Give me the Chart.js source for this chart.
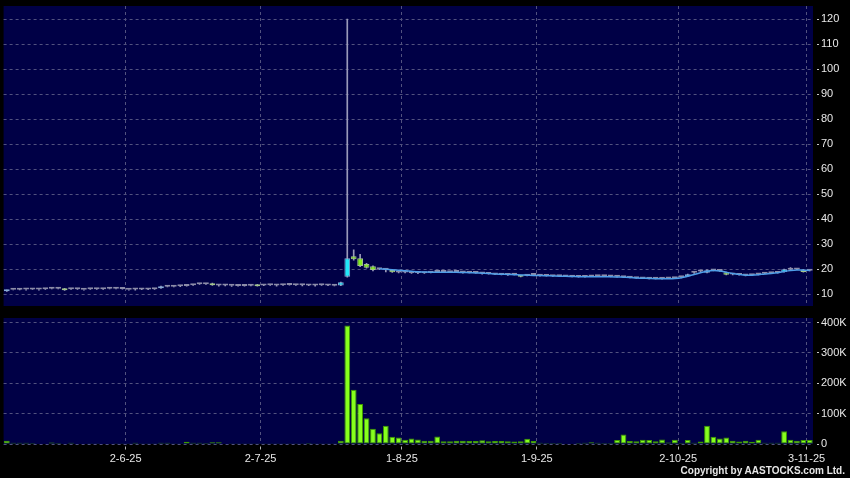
<!DOCTYPE html>
<html>
<head>
<meta charset="utf-8">
<script src="https://cdn.jsdelivr.net/npm/chart.js@4.4.1/dist/chart.umd.min.js"></script>
<style>
  body { margin: 0; background: #000; }
  #wrap { position: relative; width: 850px; height: 478px; background: #000; overflow: hidden; }
  .box { position: absolute; left: 0; width: 850px; }
  #copy { position: absolute; right: 5px; top: 465px; font: bold 10px "Liberation Sans", Arial, sans-serif; line-height: 11px; color: #e6e6e6; z-index: 2; }
</style>
</head>
<body>
<div id="wrap">
  <div class="box" style="top:0;height:312px"><canvas id="priceChart"></canvas></div>
  <div class="box" style="top:312px;height:166px"><canvas id="volChart"></canvas></div>
  <div id="copy">Copyright by AASTOCKS.com Ltd.</div>
</div>
<script>
// trading days (day-month-yy)
const mayDays = [6,7,8,9,12,13,14,15,16,19,20,21,22,23,26,27,28,29,30];
const junDays = [2,3,4,5,6,9,10,11,12,13,16,17,18,19,20,23,24,25,26,27,30];
const julDays = [2,3,4,7,8,9,10,11,14,15,16,17,18,21,22,23,24,25,28,29,30,31];
const augDays = [1,4,5,6,7,8,11,12,13,14,15,18,19,20,21,22,25,26,27,28,29];
const sepDays = [1,2,3,4,5,8,9,10,11,12,15,16,17,18,19,22,23,24,25,26,29,30];
const octDays = [2,3,6,8,9,10,13,14,15,16,17,20,21,22,23,24,27,28,30,31];
const novDays = [3];

const dates = [
  ...mayDays.map(d => d + '-5-25'),
  ...junDays.map(d => d + '-6-25'),
  ...julDays.map(d => d + '-7-25'),
  ...augDays.map(d => d + '-8-25'),
  ...sepDays.map(d => d + '-9-25'),
  ...octDays.map(d => d + '-10-25'),
  ...novDays.map(d => d + '-11-25')
];

const xTickLabels = ['2-6-25', '2-7-25', '1-8-25', '1-9-25', '2-10-25', '3-11-25'];
const priceTicks = [10, 20, 30, 40, 50, 60, 70, 80, 90, 100, 110, 120];
const volTicks = [0, 100, 200, 300, 400];
const volTickLabels = ['0', '100K', '200K', '300K', '400K'];

const openP = [
  11.2, 11.75, 11.75, 11.85, 11.85, 11.85, 12.0, 12.2, 12.2, 12.25,
  12.0, 12.0, 11.75, 12.0, 12.0, 12.0, 12.2, 12.2, 12.1, 11.75,
  11.9, 11.9, 11.9, 12.0, 12.4, 13.0, 13.0, 13.2, 13.3, 13.6,
  14.0, 14.0, 14.4, 13.5, 13.5, 13.4, 13.3, 13.3, 13.4, 13.9,
  13.5, 13.6, 13.5, 13.6, 13.7, 13.6, 13.6, 13.5, 13.5, 13.6,
  13.5, 13.4, 13.5, 17.0, 25.2, 24.4, 22.1, 21.2, 20.0, 19.8,
  19.7, 18.7, 18.7, 18.5, 18.5, 18.4, 18.6, 18.9, 18.9, 18.8,
  18.9, 18.7, 18.6, 18.5, 18.3, 18.1, 17.9, 17.8, 17.7, 17.8,
  17.6, 17.4, 17.7, 17.4, 17.3, 17.2, 17.2, 17.1, 17.0, 16.9,
  16.9, 17.1, 17.2, 17.2, 17.1, 17.0, 16.8, 16.6, 16.4, 16.3,
  16.2, 16.2, 16.2, 16.3, 16.4, 16.8, 17.1, 18.6, 19.1, 18.6,
  19.5, 19.3, 18.8, 17.9, 17.7, 17.5, 17.6, 17.9, 18.2, 18.4,
  18.5, 18.9, 19.8, 19.9, 19.8, 19.4
];
const highP = [
  11.7, 11.8, 12.1, 11.9, 11.9, 11.9, 12.1, 12.3, 12.3, 12.4,
  12.1, 12.1, 11.8, 12.4, 12.1, 12.3, 12.3, 12.3, 12.2, 11.8,
  12.0, 12.0, 12.0, 12.1, 13.3, 13.1, 13.1, 13.3, 13.8, 13.7,
  14.1, 14.1, 14.5, 13.6, 13.6, 13.5, 13.4, 13.5, 13.6, 14.0,
  13.6, 13.7, 13.6, 13.7, 13.8, 13.7, 13.7, 13.6, 13.6, 13.7,
  13.6, 13.5, 14.9, 120, 27.7, 26.0, 22.4, 21.4, 20.3, 20.0,
  19.9, 19.0, 18.9, 18.7, 18.6, 18.6, 18.9, 19.0, 19.0, 19.2,
  19.0, 18.8, 18.7, 18.7, 18.4, 18.2, 18.0, 18.1, 17.8, 17.9,
  17.7, 17.6, 17.9, 17.5, 17.4, 17.5, 17.3, 17.2, 17.1, 17.0,
  17.1, 17.3, 17.3, 17.4, 17.2, 17.1, 17.0, 16.7, 16.5, 16.4,
  16.3, 16.4, 16.3, 16.4, 16.6, 17.0, 18.1, 18.8, 19.3, 19.8,
  19.7, 19.5, 18.9, 18.0, 17.9, 17.6, 17.8, 18.0, 18.4, 18.5,
  18.7, 20.1, 20.7, 20.1, 20.0, 19.6
];
const lowP = [
  11.1, 11.7, 11.7, 11.6, 11.8, 11.6, 11.9, 12.1, 12.1, 11.5,
  11.9, 11.9, 11.6, 11.95, 11.9, 11.9, 12.1, 12.1, 12.0, 11.6,
  11.6, 11.8, 11.8, 11.9, 12.3, 12.9, 12.9, 13.0, 13.2, 13.5,
  13.9, 13.9, 13.5, 13.2, 13.3, 13.1, 13.2, 13.2, 13.3, 13.2,
  13.4, 13.5, 13.2, 13.5, 13.6, 13.5, 13.3, 13.4, 13.2, 13.5,
  13.4, 13.3, 13.4, 16.8, 23.6, 21.0, 20.4, 19.3, 19.8, 18.9,
  18.7, 18.5, 18.5, 18.3, 18.2, 18.3, 18.5, 18.7, 18.6, 18.7,
  18.8, 18.4, 18.5, 18.4, 18.0, 18.0, 17.8, 17.7, 17.5, 17.7,
  16.9, 17.3, 17.6, 17.2, 17.2, 17.1, 17.0, 17.0, 16.9, 16.8,
  16.8, 17.0, 17.1, 17.1, 16.9, 16.8, 16.6, 16.5, 16.3, 16.2,
  16.1, 16.1, 16.0, 16.2, 16.3, 16.5, 17.0, 18.3, 18.9, 18.5,
  19.3, 19.1, 17.7, 17.7, 17.6, 17.3, 17.5, 17.7, 18.1, 18.2,
  18.4, 18.8, 19.7, 19.8, 18.8, 19.3
];
const closeP = [
  11.6, 11.75, 11.75, 11.85, 11.85, 11.85, 12.0, 12.2, 12.2, 11.6,
  12.0, 12.0, 11.75, 12.0, 12.0, 12.0, 12.2, 12.2, 12.1, 11.75,
  11.9, 11.9, 11.9, 12.0, 13.2, 13.0, 13.0, 13.2, 13.3, 13.6,
  14.0, 14.0, 13.6, 13.5, 13.5, 13.4, 13.3, 13.3, 13.4, 13.2,
  13.5, 13.6, 13.5, 13.6, 13.7, 13.6, 13.6, 13.5, 13.5, 13.6,
  13.5, 13.4, 14.8, 24.4, 24.0, 21.3, 20.6, 19.7, 20.0, 19.8,
  18.8, 18.7, 18.7, 18.5, 18.5, 18.4, 18.6, 18.9, 18.9, 18.8,
  18.9, 18.7, 18.6, 18.5, 18.3, 18.1, 17.9, 17.8, 17.7, 17.8,
  17.0, 17.4, 17.7, 17.4, 17.3, 17.2, 17.2, 17.1, 17.0, 16.9,
  16.9, 17.1, 17.2, 17.2, 17.1, 17.0, 16.8, 16.6, 16.4, 16.3,
  16.2, 16.2, 16.2, 16.3, 16.4, 16.8, 18.0, 18.6, 19.1, 19.6,
  19.5, 19.3, 17.8, 17.9, 17.7, 17.5, 17.6, 17.9, 18.2, 18.4,
  18.5, 20.0, 19.8, 19.9, 18.9, 19.4
];
// moving average line, only drawn after the jump
const maLine = [
  null, null, null, null, null, null, null, null, null, null,
  null, null, null, null, null, null, null, null, null, null,
  null, null, null, null, null, null, null, null, null, null,
  null, null, null, null, null, null, null, null, null, null,
  null, null, null, null, null, null, null, null, null, null,
  null, null, null, null, null, null, null, null, 20.2, 20.0,
  19.8, 19.6, 19.4, 19.2, 19.0, 18.9, 18.8, 18.8, 18.8, 18.8,
  18.8, 18.7, 18.6, 18.5, 18.4, 18.3, 18.1, 18.0, 17.9, 17.8,
  17.7, 17.6, 17.5, 17.5, 17.4, 17.3, 17.2, 17.2, 17.1, 17.0,
  17.0, 17.0, 17.0, 17.0, 17.0, 16.9, 16.8, 16.7, 16.5, 16.4,
  16.3, 16.2, 16.2, 16.2, 16.3, 16.6, 17.2, 17.9, 18.6, 19.2,
  19.5, 19.3, 18.8, 18.3, 17.9, 17.6, 17.6, 17.8, 18.1, 18.3,
  18.6, 19.1, 19.5, 19.7, 19.6, 19.5
];
// volume in thousands
const volume = [
  11, 4, 4, 4, 3, 2, 2, 5, 3, 2,
  4, 2, 2, 1, 1, 2, 2, 1, 1, 1,
  4, 1, 1, 1, 4, 4, 1, 1, 7, 4,
  4, 3, 6, 6, 2, 1, 1, 1, 1, 1,
  1, 1, 1, 1, 1, 1, 1, 3, 1, 1,
  1, 1, 11, 390, 179, 132, 85, 50, 35, 60,
  24, 21, 14, 18, 15, 11, 11, 25, 9, 9,
  11, 11, 10, 10, 12, 9, 10, 10, 9, 8,
  9, 17, 10, 4, 3, 3, 3, 2, 2, 3,
  4, 6, 4, 3, 3, 13, 31, 10, 9, 14,
  13, 9, 15, 5, 14, 3, 13, 4, 8, 60,
  24, 18, 21, 11, 8, 11, 7, 14, 4, 4,
  4, 42, 14, 11, 13, 13
];

const navy = '#000046';
const gridC = '#52527f';
const txtC = '#e8e8e8';

Chart.defaults.font.family = '"Liberation Sans", Arial, sans-serif';
Chart.defaults.font.size = 11;
Chart.defaults.animation = false;

const plotBg = {
  id: 'plotBg',
  beforeDraw(chart) {
    const { ctx, chartArea: a } = chart;
    ctx.save();
    ctx.fillStyle = navy;
    ctx.fillRect(a.left, a.top, a.right - a.left, a.bottom - a.top);
    ctx.restore();
  }
};

// vertical grid lines sit on the left edge of the tick's day
function setXTicks(scale) {
  scale.ticks = xTickLabels.map(l => ({ value: dates.indexOf(l) - 0.5 }));
}

const bodyFill = dates.map((d, i) => closeP[i] > openP[i] ? '#22e8fa' : closeP[i] < openP[i] ? '#86ec22' : '#8c8ca8');
const bodyEdge = dates.map((d, i) => closeP[i] > openP[i] ? '#86aad6' : closeP[i] < openP[i] ? '#a2c48a' : '#8c8ca8');

new Chart(document.getElementById('priceChart'), {
  type: 'bar',
  data: {
    labels: dates,
    datasets: [
      {
        type: 'line',
        label: 'MA',
        data: maLine,
        borderColor: '#4f9ee8',
        borderWidth: 1.5,
        pointRadius: 0,
        tension: 0.3,
        order: 1
      },
      {
        label: 'Body',
        data: dates.map((d, i) => [openP[i], closeP[i]]),
        backgroundColor: bodyFill,
        borderColor: bodyEdge,
        borderWidth: 1,
        borderSkipped: false,
        minBarLength: 2,
        barPercentage: 0.9,
        categoryPercentage: 1,
        grouped: false,
        order: 2
      },
      {
        label: 'Wick',
        data: dates.map((d, i) => [lowP[i], highP[i]]),
        backgroundColor: '#9a9aba',
        barThickness: 1,
        grouped: false,
        order: 3
      }
    ]
  },
  options: {
    responsive: true,
    maintainAspectRatio: false,
    layout: { padding: { left: 3.6, top: 6, right: 0, bottom: 6 } },
    plugins: { legend: { display: false }, tooltip: { enabled: false } },
    scales: {
      x: {
        grid: { color: gridC, drawTicks: false, offset: false },
        border: { display: false, dash: [3, 3] },
        // labels are shown only under the volume panel
        ticks: { color: 'rgba(0,0,0,0)', autoSkip: false, maxRotation: 0, callback: () => '' },
        afterBuildTicks: setXTicks,
        afterFit: s => { s.height = 0; s.paddingLeft = 0; s.paddingRight = 0; }
      },
      y: {
        position: 'right',
        min: 5.3,
        max: 125.2,
        grid: { color: gridC, tickLength: 6, tickColor: '#c8c8c8', tickBorderDash: [0, 4, 2, 4] },
        border: { display: false, dash: [3, 3] },
        ticks: { color: txtC, padding: 2 },
        afterBuildTicks: s => { s.ticks = priceTicks.map(v => ({ value: v })); },
        afterFit: s => { s.width = 37; s.paddingTop = 0; s.paddingBottom = 0; }
      }
    }
  },
  plugins: [plotBg]
});

new Chart(document.getElementById('volChart'), {
  type: 'bar',
  data: {
    labels: dates,
    datasets: [{
      label: 'Volume',
      data: volume,
      backgroundColor: '#86ff1c',
      borderColor: '#3e9a00',
      borderWidth: 1,
      borderSkipped: false,
      barPercentage: 0.9,
      categoryPercentage: 1
    }]
  },
  options: {
    responsive: true,
    maintainAspectRatio: false,
    layout: { padding: { left: 3.6, top: 6, right: 0, bottom: 0 } },
    plugins: { legend: { display: false }, tooltip: { enabled: false } },
    scales: {
      x: {
        grid: { color: gridC, tickLength: 6, tickColor: '#b4b4b4', tickBorderDash: [0, 2.5, 3, 10], offset: false },
        border: { display: false, dash: [3, 3] },
        ticks: {
          color: txtC,
          padding: 2,
          maxRotation: 0,
          autoSkip: false,
          callback: (v, i) => xTickLabels[i]
        },
        afterBuildTicks: setXTicks,
        afterFit: s => { s.height = 34; s.paddingLeft = 0; s.paddingRight = 0; }
      },
      y: {
        position: 'right',
        min: 0,
        max: 415,
        grid: { color: gridC, tickLength: 6, tickColor: '#c8c8c8', tickBorderDash: [0, 4, 2, 4] },
        border: { display: false, dash: [3, 3] },
        ticks: { color: txtC, padding: 2, callback: (v, i) => volTickLabels[i] },
        afterBuildTicks: s => { s.ticks = volTicks.map(v => ({ value: v })); },
        afterFit: s => { s.width = 37; s.paddingTop = 0; s.paddingBottom = 0; }
      }
    }
  },
  plugins: [plotBg]
});
</script>
</body>
</html>
